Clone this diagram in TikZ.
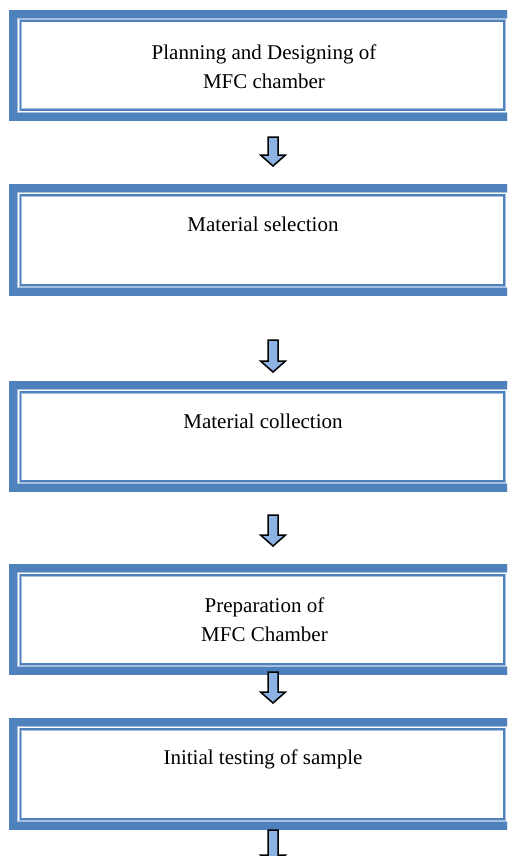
\documentclass[tikz,border=0pt]{standalone}
\usepackage{fontspec}
\setmainfont{Liberation Serif}
\definecolor{accent}{HTML}{4F81BD}
\definecolor{edgeblue}{HTML}{A7BFDE}
\definecolor{arrowfill}{HTML}{8DB3E2}
\newcommand\flowarrow[3]{%
  \coordinate (#1-top) at (273,#2);
  \coordinate (#1-tip) at (273,#3);
  \draw[flowarrow] (268,#2) -- (268,{#3-11}) -- (260.5,{#3-11}) -- (#1-tip)
    -- (285.5,{#3-11}) -- (278,{#3-11}) -- (278,#2) -- cycle;}
\newcommand\stepframe[3]{%
  \draw[band] (13.25,{#2+4.25}) rectangle (520,{#3-4.25});
  \node[innerframe, minimum height={#3-#2-22}] (#1) at (262.25,{(#2+#3)/2}) {};}
\begin{document}
\begin{tikzpicture}[x=1pt,y=-1pt,
  band/.style={draw=edgeblue, double=accent, line width=0.4pt, double distance=7.8pt},
  innerframe/.style={draw=edgeblue, double=accent, line width=0.6pt, double distance=1.8pt,
    minimum width=483.5pt, inner sep=0pt},
  steplabel/.style={font=\fontsize{21}{29}\selectfont, align=center, text=black, inner sep=0pt},
  flowarrow/.style={draw=black, line width=1.5pt, fill=arrowfill, line join=miter}]
\useasboundingbox (0,0) rectangle (507,856);
\clip (0,0) rectangle (507,856);
\fill[white] (0,0) rectangle (507,856);

\stepframe{b1}{10}{121}
\stepframe{b2}{184}{296}
\stepframe{b3}{381}{492}
\stepframe{b4}{564}{675}
\stepframe{b5}{718}{830}

\node[steplabel] (t1) at (264,66.5) {Planning and Designing of\\MFC chamber};
\node[steplabel] (t2) at (263,224.5) {Material selection};
\node[steplabel] (t3) at (263,421.5) {Material collection};
\node[steplabel] (t4) at (264.5,620) {Preparation of\\MFC Chamber};
\node[steplabel] (t5) at (263,759.5) {Initial testing of sample};

\flowarrow{a1}{137}{166}
\flowarrow{a2}{340}{372}
\flowarrow{a3}{515}{546}
\flowarrow{a4}{672}{703}
\flowarrow{a5}{830}{866}
\end{tikzpicture}
\end{document}
